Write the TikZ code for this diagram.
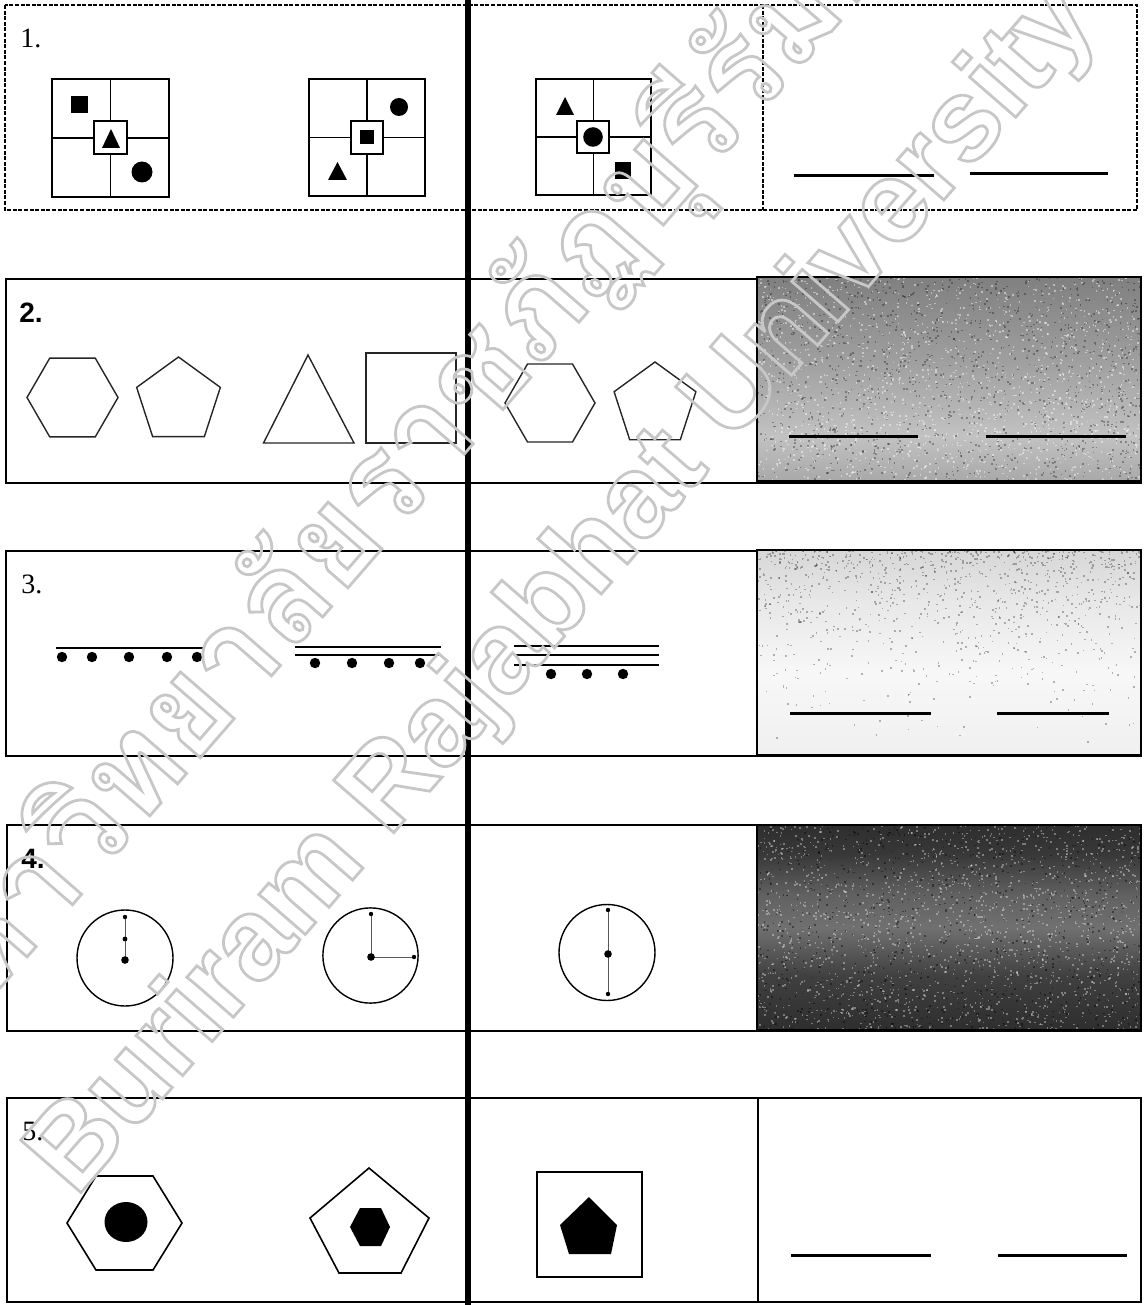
\documentclass[tikz,border=0pt]{standalone}
\usepackage{fontspec}
\setmainfont{Liberation Serif}
\newfontfamily\sansnum{Liberation Sans}
\newfontfamily\wmlatin{Liberation Sans}
\newfontfamily\wmthai[Script=Thai]{Loma}
\usetikzlibrary{shapes.geometric}
\newcommand{\outlinedtext}[1]{\special{pdf:literal direct 1 Tr 1.4 w}#1\special{pdf:literal direct 0 Tr}}
\pgfdeclareverticalshading{shadetwo}{100bp}{color(0bp)=(black!34); color(25bp)=(black!34); color(36bp)=(black!24); color(55bp)=(black!38); color(75bp)=(black!50); color(100bp)=(black!50)}
\pgfdeclareverticalshading{shadethree}{100bp}{color(0bp)=(black!6); color(25bp)=(black!6); color(45bp)=(black!3); color(62bp)=(black!9); color(75bp)=(black!16); color(100bp)=(black!16)}
\pgfdeclareverticalshading{shadefour}{100bp}{color(0bp)=(black!82); color(25bp)=(black!82); color(38bp)=(black!75); color(50bp)=(black!56); color(58bp)=(black!62); color(68bp)=(black!78); color(75bp)=(black!82); color(100bp)=(black!82)}
\begin{document}
\begin{tikzpicture}[x=0.5pt,y=-0.5pt,
  boxframe/.style={line width=1pt},
  dashframe/.style={line width=0.7pt, dash pattern=on 2pt off 0.8pt},
  gridline/.style={line width=0.9pt},
  blankline/.style={line width=1.5pt},
  numlabel/.style={anchor=base west, inner sep=0pt, font=\fontsize{14}{16}\selectfont},
  polyshape/.style={regular polygon, draw=black!85, line width=0.7pt, inner sep=0pt, outer sep=0pt},
  thinshape/.style={draw=black!85, line width=0.7pt},
  fatshape/.style={draw=black, line width=0.8pt},
  handline/.style={draw=black!65, line width=0.5pt},
  wmtext/.style={rotate=49, text=black!22, inner sep=0pt}
]
\useasboundingbox (0,0) rectangle (1144,1305);
\fill[white] (0,0) rectangle (1144,1305);
\pgfmathsetseed{4711}

% ---------- row 1 ----------
\draw[dashframe] (5,5) rectangle (1137,210);
\draw[dashframe] (763,5) -- (763,210);
\node[numlabel] (n1) at (20,48) {1.};
% grid 1
\draw[gridline] (52,79) rectangle (169,197);
\draw[gridline] (110.5,79) -- (110.5,197) (52,138) -- (169,138);
\draw[gridline, fill=white] (94,121) rectangle (127,154);
\fill (71,96) rectangle (88,113);
\fill (102,148) -- (111,129) -- (120,148) -- cycle;
\fill (142,172) circle[radius=5.25pt];
% grid 2
\draw[gridline] (309,79) rectangle (425,196);
\draw[gridline] (367,79) -- (367,196) (309,137.5) -- (425,137.5);
\draw[gridline, fill=white] (351,121) rectangle (383,154);
\fill (360,130) rectangle (374,144);
\fill (399,107) circle[radius=4.5pt];
\fill (328,180) -- (337.5,162) -- (347,180) -- cycle;
% grid 3
\draw[gridline] (536,79) rectangle (651,195);
\draw[gridline] (593.5,79) -- (593.5,195) (536,137) -- (651,137);
\draw[gridline, fill=white] (577,121) rectangle (609,153);
\fill (593,137) circle[radius=4.9pt];
\fill (556,115) -- (565,97) -- (574,115) -- cycle;
\fill (615,162) rectangle (631,179);
% answer lines
\coordinate (a1s) at (794,176); \coordinate (a1e) at (934,176);
\coordinate (b1s) at (970,174); \coordinate (b1e) at (1108,174);
\draw[blankline] (a1s) -- (a1e);
\draw[blankline] (b1s) -- (b1e);

% ---------- row 2 ----------
\draw[boxframe] (6,279) rectangle (1141,483);
\shade[shading=shadetwo] (757,277) rectangle (1141,481);
\begin{scope}
\clip (757,277) rectangle (1141,481);
\foreach \i in {1,...,1500}{
  \pgfmathsetmacro{\rx}{757+384*rnd}
  \pgfmathsetmacro{\ry}{277+204*rnd}
  \fill[white, opacity=0.45] (\rx,\ry) rectangle ++(1.6,1.6);
}
\foreach \i in {1,...,1300}{
  \pgfmathsetmacro{\rx}{757+384*rnd}
  \pgfmathsetmacro{\ry}{277+204*rnd}
  \fill[black, opacity=0.3] (\rx,\ry) rectangle ++(1.6,1.6);
}
\end{scope}
\draw[boxframe] (757,277) rectangle (1141,481);
\node[numlabel, font=\sansnum\bfseries\fontsize{14}{16}\selectfont] (n2) at (19,322) {2.};
\node[polyshape, regular polygon sides=6, minimum size=45.5pt] (hexA) at (72.5,397.5) {};
\node[polyshape, regular polygon sides=5, minimum size=44pt] (penA) at (178.5,401) {};
\draw[thinshape] (263.5,443) -- (308,355) -- (354,443) -- cycle;
\draw[thinshape] (366,353) rectangle (456,443);
\node[polyshape, regular polygon sides=6, minimum size=45pt] (hexB) at (550,403) {};
\node[polyshape, regular polygon sides=5, minimum size=43pt] (penB) at (655,405) {};
\coordinate (a2s) at (789,436); \coordinate (a2e) at (918,436);
\coordinate (b2s) at (986,436); \coordinate (b2e) at (1126,436);
\draw[blankline] (a2s) -- (a2e);
\draw[blankline] (b2s) -- (b2e);

% ---------- row 3 ----------
\draw[boxframe] (6,551) rectangle (1141,756);
\shade[shading=shadethree] (757,550) rectangle (1141,755);
\begin{scope}
\clip (757,550) rectangle (1141,755);
\foreach \i in {1,...,1000}{
  \pgfmathsetmacro{\rx}{757+384*rnd}
  \pgfmathsetmacro{\ry}{550+205*rnd*rnd}
  \fill[black, opacity=0.28] (\rx,\ry) rectangle ++(1.6,1.6);
}
\end{scope}
\draw[boxframe] (757,550) rectangle (1141,755);
\node[numlabel] (n3) at (21,593) {3.};
\draw[line width=1.4pt] (56,648) -- (203,648);
\foreach \xx in {62,92,129,167,197} \fill (\xx,657) circle[radius=2.6pt];
\draw[line width=1.4pt] (295,647) -- (441,647) (295,655) -- (441,655);
\foreach \xx in {315,352,389,420} \fill (\xx,663) circle[radius=2.6pt];
\draw[line width=1.4pt] (514,646) -- (659,646) (514,655) -- (659,655) (514,665) -- (659,665);
\foreach \xx in {551,587,623} \fill (\xx,674) circle[radius=2.6pt];
\coordinate (a3s) at (790,713); \coordinate (a3e) at (931,713);
\coordinate (b3s) at (997,713); \coordinate (b3e) at (1109,713);
\draw[blankline] (a3s) -- (a3e);
\draw[blankline] (b3s) -- (b3e);

% ---------- row 4 ----------
\draw[boxframe] (7,825) rectangle (1141,1031);
\shade[shading=shadefour] (757,825) rectangle (1141,1030);
\begin{scope}
\clip (757,825) rectangle (1141,1030);
\foreach \i in {1,...,1800}{
  \pgfmathsetmacro{\rx}{757+384*rnd}
  \pgfmathsetmacro{\ry}{825+205*rnd}
  \fill[white, opacity=0.35] (\rx,\ry) rectangle ++(1.6,1.6);
}
\foreach \i in {1,...,900}{
  \pgfmathsetmacro{\rx}{757+384*rnd}
  \pgfmathsetmacro{\ry}{825+205*rnd}
  \fill[black, opacity=0.4] (\rx,\ry) rectangle ++(1.6,1.6);
}
\end{scope}
\draw[boxframe] (757,825) rectangle (1141,1030);
\node[numlabel, font=\sansnum\bfseries\fontsize{14}{16}\selectfont] (n4) at (21,868) {4.};
% clock 1
\coordinate (c1) at (125,960);
\draw[line width=0.7pt] (125,958) circle[radius=24pt];
\coordinate (c1top) at (125,917);
\draw[handline] (c1) -- (c1top);
\fill (c1) circle[radius=1.9pt];
\fill (125,939) circle[radius=1.2pt];
\fill (c1top) circle[radius=1.1pt];
% clock 2
\coordinate (c2) at (371,957);
\draw[line width=0.7pt] (370.5,955.5) circle[radius=23.8pt];
\coordinate (c2top) at (371,914);
\coordinate (c2right) at (414,957);
\draw[handline] (c2) -- (c2top);
\draw[handline] (c2) -- (c2right);
\fill (c2) circle[radius=1.9pt];
\fill (c2top) circle[radius=1.1pt];
\fill (c2right) circle[radius=1.1pt];
% clock 3
\coordinate (c3) at (608,954);
\draw[line width=0.7pt] (607,952.5) circle[radius=24pt];
\coordinate (c3top) at (608,910);
\coordinate (c3bot) at (608,994);
\draw[handline] (c3top) -- (c3bot);
\fill (c3) circle[radius=1.9pt];
\fill (c3top) circle[radius=1.1pt];
\fill (c3bot) circle[radius=1.1pt];

% ---------- row 5 ----------
\draw[boxframe] (7,1098) rectangle (1141,1302);
\draw[line width=0.6pt] (758,1098) -- (758,1302);
\node[numlabel] (n5) at (22,1140) {5.};
\draw[fatshape] (67,1223) -- (96,1176) -- (153,1176) -- (182,1223) -- (153,1270) -- (96,1270) -- cycle;
\fill (126,1222) ellipse[x radius=10.75pt, y radius=10pt];
\draw[fatshape] (369,1168) -- (429,1218) -- (401,1273) -- (339,1273) -- (310,1218) -- cycle;
\fill (350,1227) -- (360,1208) -- (381,1208) -- (390,1227) -- (381,1246) -- (360,1246) -- cycle;
\draw[fatshape] (537,1172) rectangle (642,1277);
\fill (589,1197) -- (617,1225) -- (611,1254) -- (569,1254) -- (560,1225) -- cycle;
\coordinate (a5s) at (791,1255); \coordinate (a5e) at (931,1255);
\coordinate (b5s) at (998,1255); \coordinate (b5e) at (1127,1255);
\draw[blankline] (a5s) -- (a5e);
\draw[blankline] (b5s) -- (b5e);

% ---------- thick divider ----------
\draw[line width=3pt] (468,0) -- (468,1305);

% ---------- watermark ----------
\begin{scope}
\clip (0,0) rectangle (1144,1305);
\node[wmtext, font=\wmthai\bfseries\fontsize{64}{68}\selectfont] (wmth) at (385,485) {\outlinedtext{มหาวิทยาลัยราชภัฏบุรีรัมย์}};
\node[wmtext, font=\wmlatin\bfseries\fontsize{58}{62}\selectfont] (wmen) at (565,590) {\outlinedtext{Buriram Rajabhat University}};
\end{scope}
\end{tikzpicture}
\end{document}
